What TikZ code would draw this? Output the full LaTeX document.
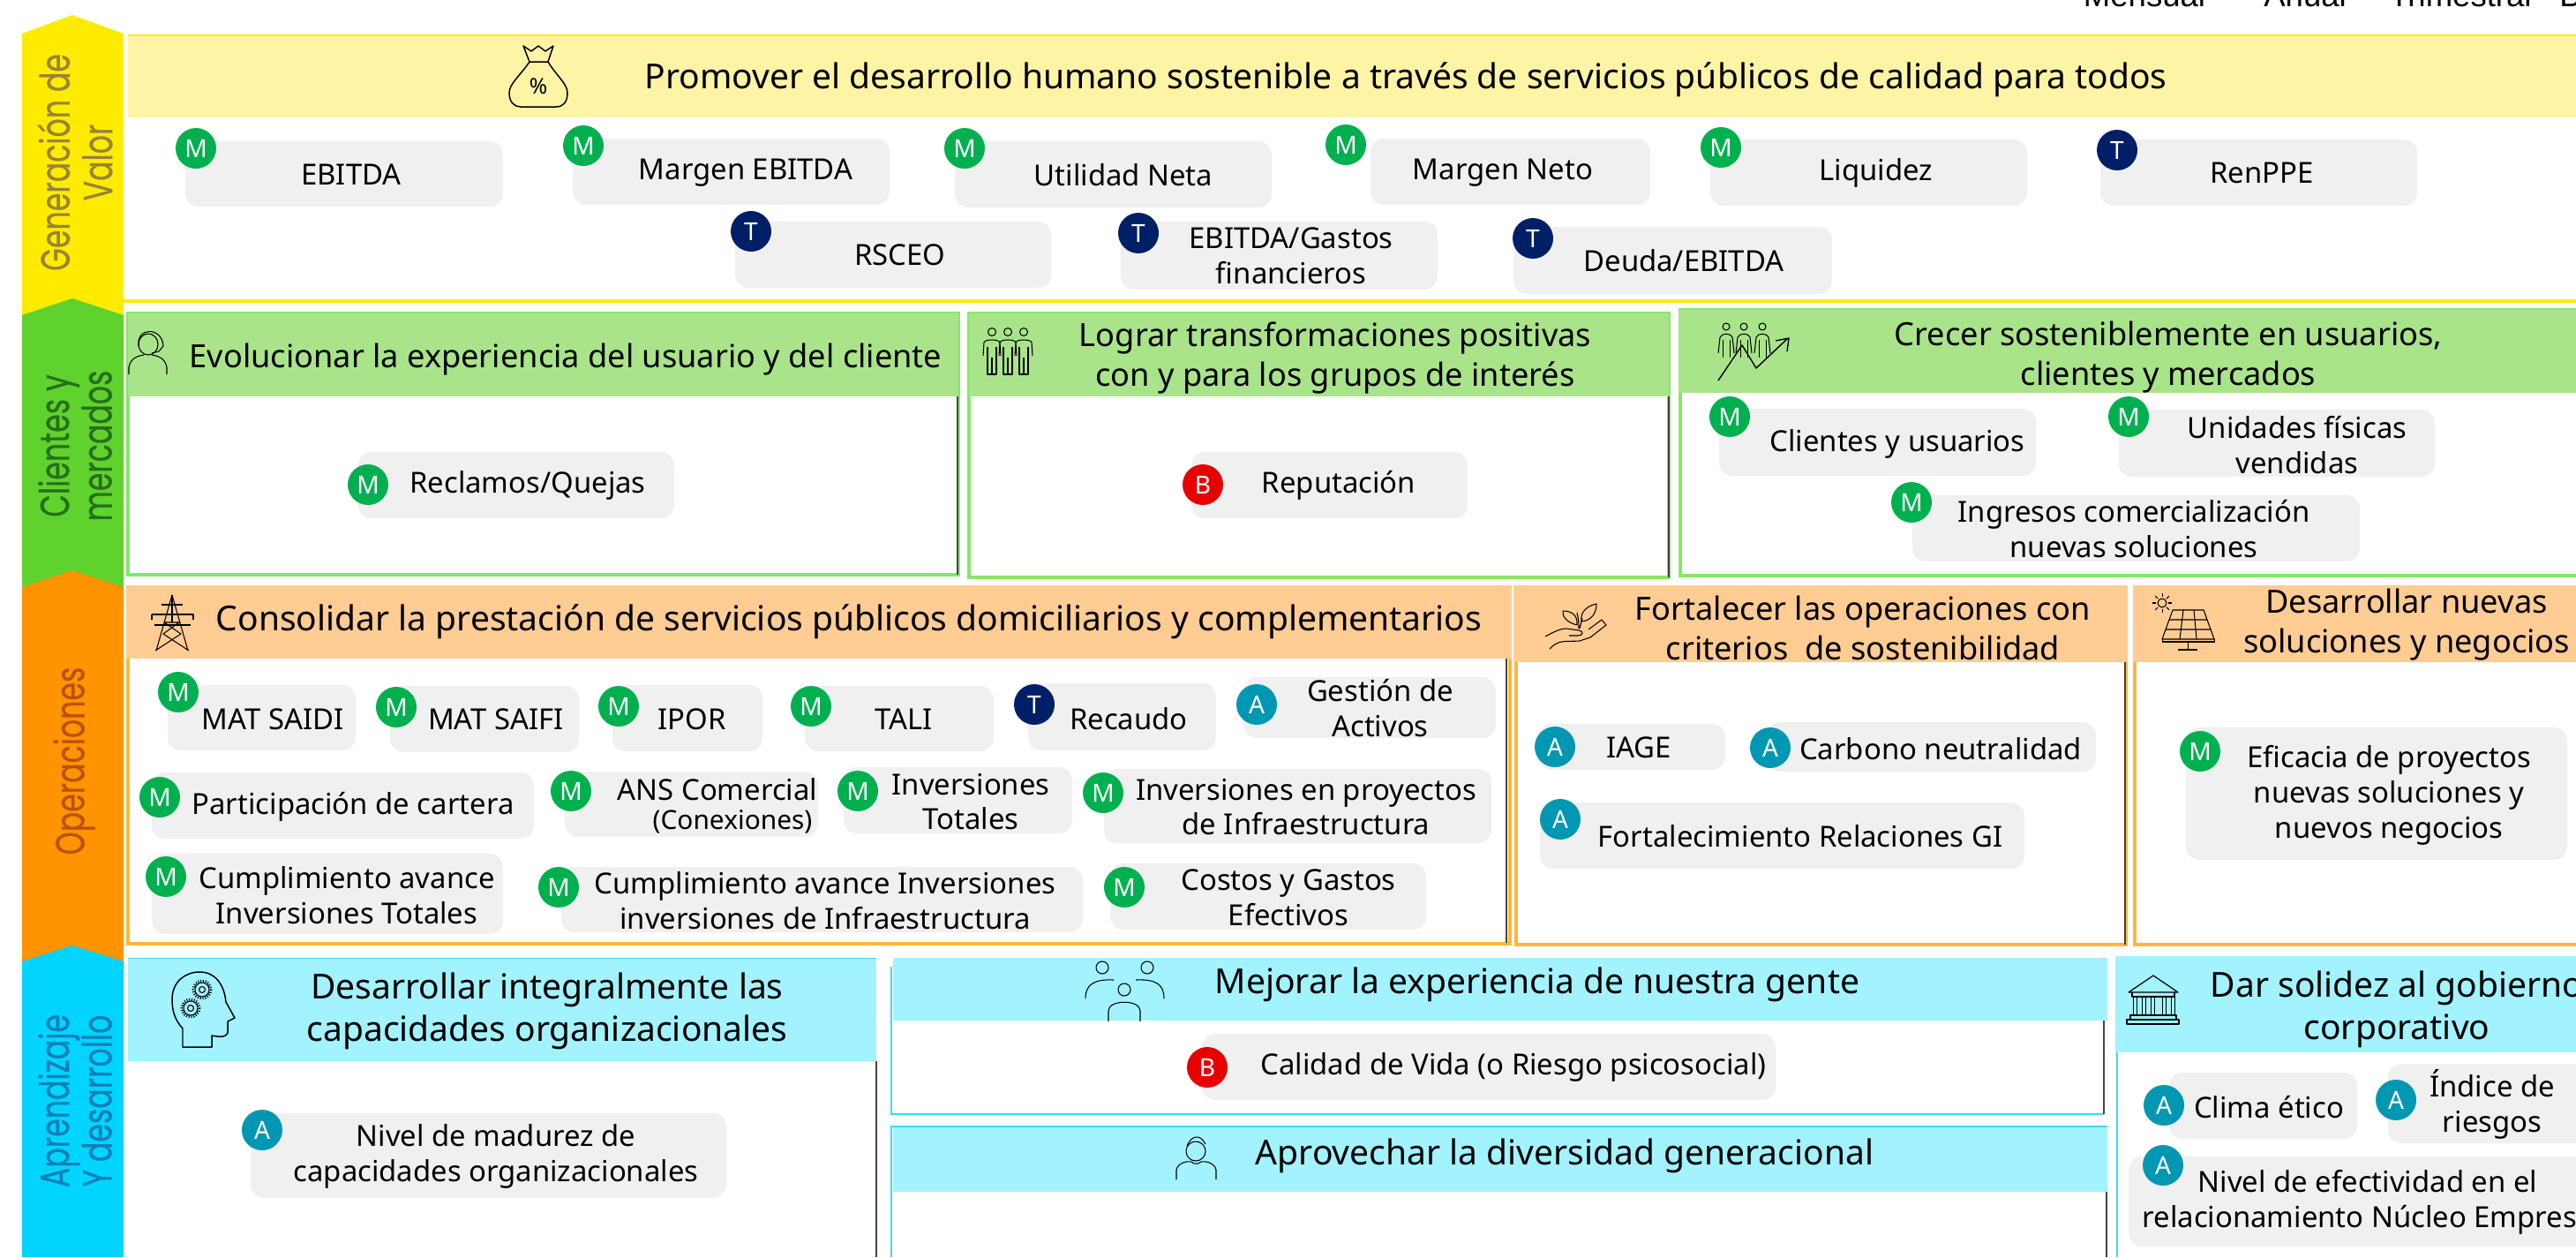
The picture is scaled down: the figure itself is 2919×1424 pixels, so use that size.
\documentclass[tikz,border=0pt]{standalone}
\usepackage{fontspec}
\setmainfont{Noto Sans}
\newfontfamily\sidefont[FakeBold=0.5]{Poppins}
\newfontfamily\arialfont{Liberation Sans}
\definecolor{cy}{HTML}{FFEB00}\definecolor{cyh}{HTML}{FFF4A6}
\definecolor{cg}{HTML}{5FD22E}\definecolor{cgh}{HTML}{A9E48A}\definecolor{cgl}{HTML}{84E866}
\definecolor{co}{HTML}{FF9300}\definecolor{coh}{HTML}{FFCC94}\definecolor{col}{HTML}{FFB63C}
\definecolor{cb}{HTML}{00D4FF}\definecolor{cbh}{HTML}{A2F3FF}\definecolor{cbl}{HTML}{38DCF0}
\definecolor{bM}{HTML}{00B04F}\definecolor{bT}{HTML}{001F66}\definecolor{bA}{HTML}{0097B2}\definecolor{bB}{HTML}{E60000}
\definecolor{cpill}{HTML}{F0F0F0}\definecolor{cdark}{HTML}{444444}
\definecolor{sy}{HTML}{968436}\definecolor{sg}{HTML}{266F1C}\definecolor{so}{HTML}{B9520E}\definecolor{sb}{HTML}{0F7FB8}
\tikzset{
 pillbox/.style={fill=cpill,rounded corners=0.3cm,inner sep=0pt,draw=none},
 badge/.style={circle,inner sep=0pt,minimum size=0.92cm,text=white,font=\fontsize{16}{16}\selectfont},
 kpi/.style={align=center,inner sep=0pt,yshift=-0.02cm,font=\fontsize{18.7}{22.6}\selectfont},
 head/.style={align=center,inner sep=0pt,yshift=-0.06cm,font=\fontsize{20.6}{25.6}\selectfont},
 headl/.style={align=center,inner sep=0pt,yshift=-0.05cm,font=\fontsize{22.2}{27}\selectfont},
 side/.style={rotate=90,align=center,inner sep=0pt,font=\sidefont\fontsize{21}{27.5}\selectfont},
 icon/.style={draw=black,line width=0.85pt,line join=round,fill=none},
 thinicon/.style={draw=black,line width=0.6pt,line join=round,fill=none},
 top/.style={anchor=base,inner sep=0pt,font=\arialfont\fontsize{20.8}{20.8}\selectfont},
}
\newcommand{\slab}[1]{\scalebox{0.9}[1.25]{#1}}
\newcounter{pc}
% x1 y1 x2 y2 tx ty text letter bx by
\newcommand{\pill}[9]{\stepcounter{pc}%
 \pgfmathsetmacro{\pw}{(#3-#1)*0.02}\pgfmathsetmacro{\ph}{(#4-#2)*0.02}%
 \node[pillbox,minimum width=\pw cm,minimum height=\ph cm] (p\arabic{pc}) at ({(#1+#3)/2},{(#2+#4)/2}) {};%
 \node[kpi] (t\arabic{pc}) at (#5,#6) {#7};%
 \pillb{#8}#9}
\newcommand{\pillb}[3]{\node[badge,fill=b#1] (b\arabic{pc}) at (#2,#3) {#1};}
\begin{document}
\begin{tikzpicture}[x=0.02cm,y=-0.02cm]
\useasboundingbox (0,0) rectangle (2919,1424);
\clip (0,0) rectangle (2919,1424);
% top labels
\node[top] (tm) at (2430,7) {Mensual};
\node[top] (ta) at (2612,7) {Anual};
\node[top] (ttr) at (2788,7) {Trimestral};
\node[top,anchor=base west] (tb) at (2900,7) {B};
% side band
\fill[cy] (25,38) -- (82,17) -- (140,38) -- (140,380) -- (25,380) -- cycle;
\fill[cg] (25,357) -- (82,338) -- (140,357) -- (140,690) -- (25,690) -- cycle;
\fill[co] (25,665) -- (82,646) -- (140,665) -- (140,1110) -- (25,1110) -- cycle;
\fill[cb] (25,1089) -- (82,1071) -- (140,1089) -- (140,1424) -- (25,1424) -- cycle;
\node[side,text=sy] (s1) at (85,184) {\slab{Generación de}\\\slab{Valor}};
\node[side,text=sg] (s2) at (85,505) {\slab{Clientes y}\\\slab{mercados}};
\node[side,text=so] (s3) at (84,862) {\slab{Operaciones}};
\node[side,text=sb] (s4) at (85,1247) {\slab{Aprendizaje}\\\slab{Y desarrollo}};
% yellow panel
\fill[cyh] (145,40) rectangle (2919,133);
\draw[cy,line width=1.6pt] (145,40) -- (2919,40);
\draw[cy,line width=2pt] (140,341) -- (2919,341);
\node[headl] (h1) at (1593,88) {Promover el desarrollo humano sostenible a través de servicios públicos de calidad para todos};
% green panels
\draw[cgl,line width=2pt] (145,355) rectangle (1086,651);
\draw[cgl,line width=2pt] (1098,355) rectangle (1891,654);
\draw[cgl,line width=2pt] (1904,351) rectangle (2925,652);
\fill[cgh] (145,355) rectangle (1086,449);
\fill[cgh] (1098,355) rectangle (1891,449);
\fill[cgh] (1902,351) rectangle (2919,445);
\draw[cdark,line width=1pt] (1085,449) -- (1085,651);
\draw[cdark,line width=1pt] (1891,449) -- (1891,654);
\node[head] (h2) at (641,404) {Evolucionar la experiencia del usuario y del cliente};
\node[head] (h3) at (1513,402) {Lograr transformaciones positivas\\con y para los grupos de interés};
\node[head] (h4) at (2457,402) {Crecer sosteniblemente en usuarios,\\clientes y mercados};
% orange panels
\draw[col,line width=2pt] (145,665) rectangle (1711,1069);
\draw[col,line width=2pt] (1718,665) rectangle (2409,1070);
\draw[col,line width=2pt] (2419,665) rectangle (2925,1070);
\fill[coh] (143,663) rectangle (1713,746);
\fill[coh] (1715,663) rectangle (2411,750);
\fill[coh] (2417,663) rectangle (2919,750);
\draw[cdark,line width=1.2pt] (1707,746) -- (1707,1068);
\draw[cdark,line width=1.2pt] (2408,750) -- (2408,1070);
\node[headl] (h5) at (962,702) {Consolidar la prestación de servicios públicos domiciliarios y complementarios};
\node[head] (h6) at (2111,708) {Fortalecer las operaciones con\\criterios\ \ de sostenibilidad};
\node[head] (h7) at (2727,705) {Desarrollar nuevas\\soluciones y negocios};
% blue panels
\draw[cbl,line width=1.5pt] (145,1086) -- (993,1086);
\fill[cbh] (145,1086) rectangle (993,1202);
\draw[cdark,line width=1pt] (993,1202) -- (993,1424);
\draw[cbl,line width=1.5pt] (1010,1095) -- (1010,1262) -- (2384,1262);
\fill[cbh] (1012,1085) rectangle (2388,1156);
\draw[cdark,line width=1pt] (2384,1156) -- (2384,1262);
\draw[cbl,line width=1.5pt] (1010,1424) -- (1010,1276) -- (2388,1276);
\fill[cbh] (1012,1277) rectangle (2388,1350);
\draw[cdark,line width=1pt] (2387,1350) -- (2387,1424);
\draw[cbl,line width=1.5pt] (2399,1424) -- (2399,1085);
\fill[cbh] (2397,1083) rectangle (2919,1192);
\node[headl] (h8) at (620,1143) {Desarrollar integralmente las\\capacidades organizacionales};
\node[headl] (h9) at (1742,1113) {Mejorar la experiencia de nuestra gente};
\node[headl] (h10) at (1773,1307) {Aprovechar la diversidad generacional};
\node[headl] (h11) at (2716,1141) {Dar solidez al gobierno\\corporativo};
% KPIs row 1
\pill{210}{160}{570}{234}{398}{197}{EBITDA}{M}{{222}{168}}
\pill{649}{157}{1008}{232}{845}{195}{Margen EBITDA}{M}{{661}{165}}
\pill{1082}{160}{1441}{235}{1273}{197}{Utilidad Neta}{M}{{1093}{168}}
\pill{1553}{157}{1870}{232}{1703}{195}{Margen Neto}{M}{{1525}{164}}
\pill{1938}{158}{2297}{233}{2126}{195}{Liquidez}{M}{{1950}{167}}
\pill{2380}{158}{2739}{233}{2563}{195}{RenPPE}{T}{{2399}{170}}
\pill{833}{251}{1191}{326}{1020}{288}{RSCEO}{T}{{851}{262}}
\pill{1270}{251}{1629}{328}{1463}{289}{EBITDA/Gastos\\financieros}{T}{{1290}{264}}
\pill{1715}{257}{2076}{333}{1908}{294}{Deuda/EBITDA}{T}{{1737}{270}}
% green
\pill{406}{512}{764}{587}{598}{549}{Reclamos/Quejas}{M}{{417}{549}}
\pill{1350}{512}{1663}{587}{1517}{549}{Reputación}{B}{{1363}{549}}
\pill{1948}{463}{2307}{539}{2150}{502}{Clientes y usuarios}{M}{{1960}{472}}
\pill{2401}{464}{2759}{540}{2603}{503}{Unidades físicas\\vendidas}{M}{{2412}{472}}
\pill{2167}{561}{2674}{636}{2418}{598}{Ingresos comercialización\\nuevas soluciones}{M}{{2166}{569}}
% orange
\pill{190}{776}{403}{850}{309}{814}{MAT SAIDI}{M}{{202}{784}}
\pill{442}{777}{656}{852}{562}{814}{MAT SAIFI}{M}{{449}{801}}
\pill{694}{776}{864}{851}{784}{814}{IPOR}{M}{{701}{800}}
\pill{912}{777}{1126}{851}{1024}{814}{TALI}{M}{{919}{800}}
\pill{1165}{774}{1378}{850}{1279}{813}{Recaudo}{T}{{1172}{798}}
\pill{1409}{767}{1695}{836}{1564}{801}{Gestión de\\Activos}{A}{{1424}{798}}
\pill{172}{875}{605}{950}{400}{913}{Participación de cartera}{M}{{181}{903}}
\pill{640}{874}{927}{948}{813}{893}{ANS Comercial}{M}{{647}{896}}
\node[kpi,font=\fontsize{17}{17}\selectfont] (tc) at (830,930) {(Conexiones)};
\pill{956}{869}{1215}{944}{1100}{907}{Inversiones\\Totales}{M}{{972}{896}}
\pill{1251}{871}{1690}{955}{1480}{913}{Inversiones en proyectos\\de Infraestructura}{M}{{1250}{898}}
\pill{172}{967}{570}{1058}{393}{1013}{Cumplimiento avance\\Inversiones Totales}{M}{{188}{993}}
\pill{636}{982}{1227}{1056}{935}{1019}{Cumplimiento avance Inversiones\\inversiones de Infraestructura}{M}{{633}{1005}}
\pill{1258}{978}{1616}{1053}{1460}{1016}{Costos y Gastos\\Efectivos}{M}{{1274}{1005}}
\pill{1743}{820}{1955}{872}{1857}{846}{IAGE}{A}{{1762}{846}}
\pill{2002}{818}{2375}{874}{2199}{847}{Carbono neutralidad}{A}{{2006}{847}}
\pill{1745}{909}{2294}{984}{2040}{946}{Fortalecimiento Relaciones GI}{A}{{1768}{928}}
\pill{2477}{824}{2909}{974}{2707}{900}{Eficacia de proyectos\\nuevas soluciones y\\nuevos negocios}{M}{{2493}{851}}
% blue
\pill{284}{1261}{823}{1357}{562}{1309}{Nivel de madurez de\\capacidades organizacionales}{A}{{297}{1280}}
\pill{1362}{1171}{2012}{1246}{1715}{1208}{Calidad de Vida (o Riesgo psicosocial)}{B}{{1368}{1209}}
\pill{2458}{1215}{2671}{1290}{2571}{1253}{Clima ético}{A}{{2452}{1252}}
\pill{2706}{1205}{2930}{1295}{2824}{1250}{Índice de\\riesgos}{A}{{2715}{1246}}
\pill{2412}{1310}{2960}{1412}{2683}{1361}{Nivel de efectividad en el\\relacionamiento Núcleo Empresa}{A}{{2451}{1320}}
% icon: money bag
\draw[icon] (593,52) -- (600,70) -- (621,70) -- (627,52) -- (618,58) -- (610,52) -- (602,58) -- cycle;
\draw[icon] (600,70) .. controls (590,85) and (577,95) .. (577,105) .. controls (577,116) and (583,121) .. (590,121) -- (630,121) .. controls (638,121) and (643,116) .. (643,105) .. controls (643,95) and (630,85) .. (621,70);
\node[inner sep=0pt,font=\fontsize{14}{14}\selectfont] (pct) at (610,98) {\%};
% icon: headset person
\draw[thinicon] (168,390) ellipse (11 and 12);
\draw[thinicon] (157,392) .. controls (154,370) and (184,370) .. (185,392) -- (180,398) -- (172,400);
\draw[thinicon] (146,424) -- (146,416) .. controls (148,405) and (157,403) .. (163,402);
\draw[thinicon] (189,424) -- (189,416) .. controls (187,405) and (178,403) .. (172,402);
% icon: three people (Lograr)
\foreach \dx in {0,18,36}{
 \draw[thinicon,xshift=\dx*0.02cm] (1124,376) circle (4.5);
 \draw[thinicon,xshift=\dx*0.02cm] (1114,403) -- (1115,388) .. controls (1116,384) and (1132,384) .. (1133,388) -- (1134,403);
 \draw[thinicon,xshift=\dx*0.02cm] (1119,393) -- (1119,424) -- (1129,424) -- (1129,393) (1124,405) -- (1124,424);
}
% icon: three people with arrow
\foreach \dx in {0,20,41}{
 \draw[thinicon,xshift=\dx*0.02cm] (1956,370) circle (4);
 \draw[thinicon,xshift=\dx*0.02cm] (1947,400) -- (1949,382) .. controls (1951,377) and (1961,377) .. (1963,382) -- (1965,400);
 \draw[thinicon,xshift=\dx*0.02cm] (1952,385) -- (1952,405) (1960,385) -- (1960,405);
}
\draw[thinicon,line width=0.8pt] (1947,431) -- (1974,391) -- (1990,417) -- (2025,384) (2012,386) -- (2027,383) -- (2025,398);
% icon: tower
\draw[thinicon] (195,674) -- (177,737) (195,674) -- (213,737) (176,737) -- (205,718) -- (186,705) -- (203,705) -- (185,718) -- (214,737);
\draw[thinicon] (172,696) -- (219,696) -- (219,702) (172,696) -- (172,702) (175,708) -- (216,708) (183,685) -- (207,685) (195,674) -- (195,705);
% icon: plant in hand
\draw[thinicon] (1751,721) .. controls (1760,716) and (1768,712) .. (1775,712) -- (1789,714) .. controls (1795,715) and (1794,720) .. (1788,720) -- (1778,720);
\draw[thinicon] (1756,735) .. controls (1766,724) and (1775,727) .. (1790,726) -- (1802,722) -- (1820,708) -- (1815,702) -- (1800,713);
\draw[thinicon] (1789,712) .. controls (1789,700) and (1788,700) .. (1787,694) (1790,712) -- (1793,700);
\draw[thinicon] (1787,708) .. controls (1775,705) and (1770,698) .. (1771,692) .. controls (1780,692) and (1788,696) .. (1787,708);
\draw[thinicon] (1792,704) .. controls (1790,692) and (1800,686) .. (1809,684) .. controls (1809,695) and (1803,703) .. (1792,704);
% icon: solar panel
\draw[thinicon] (2450,683) circle (5);
\foreach \a in {0,45,...,315}{\draw[thinicon] ({2450+7*cos(\a)},{683+7*sin(\a)}) -- ({2450+11*cos(\a)},{683+11*sin(\a)});}
\draw[thinicon] (2462,691) -- (2497,691) -- (2509,724) -- (2450,724) -- cycle;
\draw[thinicon] (2450,724) -- (2450,727) -- (2509,727) -- (2509,724);
\draw[thinicon] (2458,702) -- (2501,702) (2454,713) -- (2505,713) (2474,691) -- (2470,724) (2486,691) -- (2489,724);
\draw[thinicon] (2479,727) -- (2479,736) (2468,736) -- (2490,736);
% icon: head with gears
\draw[icon] (207,1186) -- (207,1165) .. controls (198,1155) and (195,1145) .. (195,1132) .. controls (195,1112) and (210,1101) .. (226,1101) .. controls (244,1101) and (254,1115) .. (256,1135) -- (266,1153) -- (258,1157) -- (258,1170) .. controls (256,1175) and (250,1175) .. (240,1173) -- (240,1186) -- cycle;
\foreach \cx/\cy in {229/1121,216/1142}{
 \draw[thinicon] (\cx,\cy) circle (3.5);
 \draw[thinicon,densely dotted,line width=1.6pt] (\cx,\cy) circle (10);
 \draw[thinicon] (\cx,\cy) circle (8);
}
% icon: three persons
\draw[thinicon] (1249,1096) circle (7);
\draw[thinicon] (1300,1096) circle (7);
\draw[thinicon] (1274,1121) circle (7);
\draw[thinicon] (1230,1131) .. controls (1230,1115) and (1240,1109) .. (1262,1110);
\draw[thinicon] (1287,1110) .. controls (1310,1109) and (1319,1115) .. (1319,1131);
\draw[thinicon] (1256,1157) -- (1256,1145) .. controls (1256,1132) and (1292,1132) .. (1292,1145) -- (1292,1157);
% icon: person
\draw[thinicon] (1355,1304) circle (11);
\draw[thinicon] (1345,1298) .. controls (1350,1286) and (1360,1284) .. (1366,1296);
\draw[thinicon] (1333,1336) -- (1333,1325) .. controls (1335,1317) and (1345,1315) .. (1350,1316) .. controls (1353,1319) and (1358,1319) .. (1361,1316) .. controls (1366,1315) and (1376,1317) .. (1378,1325) -- (1378,1336);
% icon: temple
\draw[icon,line width=0.7pt] (2440,1105) -- (2468,1124) -- (2412,1124) -- cycle;
\draw[icon,line width=0.7pt] (2416,1124) -- (2416,1129) -- (2464,1129) -- (2464,1124);
\foreach \xx in {2417,2427,2437,2450,2460}{\draw[thinicon] (\xx,1129) -- (\xx,1150) -- (\xx+4,1150) -- (\xx+4,1129);}
\draw[icon,line width=0.7pt] (2414,1150) rectangle (2466,1155);
\draw[icon,line width=0.7pt] (2410,1155) rectangle (2469,1160);
\end{tikzpicture}
\end{document}
